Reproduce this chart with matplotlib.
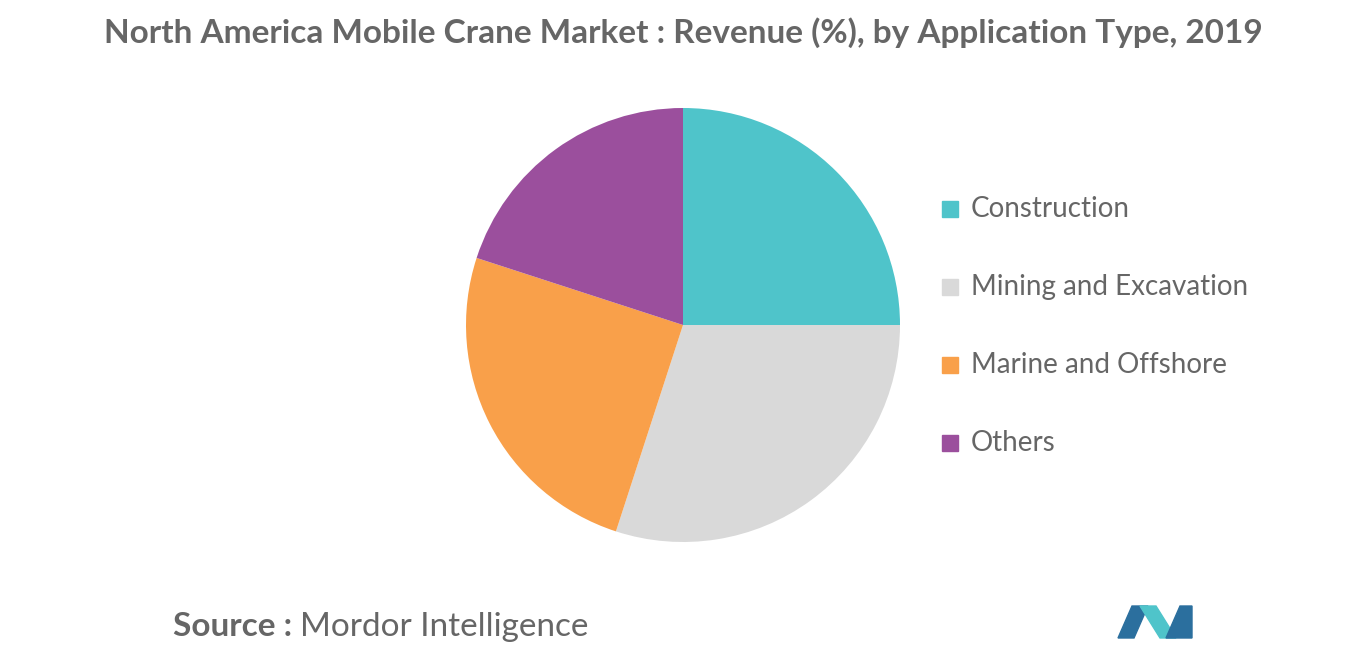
import matplotlib.pyplot as plt
from matplotlib.patches import Polygon

labels = ["Construction", "Mining and Excavation", "Marine and Offshore", "Others"]
values = [25, 30, 25, 20]
colors = ["#4FC4CA", "#D9D9D9", "#F9A04A", "#9B4F9D"]

fig = plt.figure(figsize=(13.66, 6.55), dpi=100)
ax = fig.add_axes([683/1366 - 217/1366, 1 - (325 + 217)/655, 434/1366, 434/655])
wedges, _ = ax.pie(values, colors=colors, startangle=90, counterclock=False)
ax.set_xlim(-1, 1)
ax.set_ylim(-1, 1)
ax.set_aspect("equal")

fig.text(0.5, 1 - 33/655, "North America Mobile Crane Market : Revenue (%), by Application Type, 2019",
         ha="center", va="center", fontsize=24, fontweight="bold", color="#666666", family="Lato")

for i, (lab, col) in enumerate(zip(labels, colors)):
    y = 1 - (209 + 78 * i) / 655
    fig.patches.append(plt.Rectangle((942/1366, y - 8/655), 16/1366, 16/655,
                                     transform=fig.transFigure, color=col))
    fig.text(971/1366, y, lab, va="center", fontsize=20, color="#666666", family="Lato")

fig.text(173/1366, 1 - 627/655, "Source :", va="center", fontsize=24, fontweight="bold",
         color="#666666", family="Lato")
fig.text(300/1366, 1 - 627/655, "Mordor Intelligence", va="center", fontsize=24,
         color="#666666", family="Lato")

# logo
def px(pts):
    return [(x/1366, 1 - y/655) for x, y in pts]
fig.patches.append(Polygon(px([(1118, 638), (1132, 606), (1148, 606), (1134, 638)]),
                           transform=fig.transFigure, color="#2B6F9E"))
fig.patches.append(Polygon(px([(1140, 606), (1160, 638), (1176, 638), (1156, 606)]),
                           transform=fig.transFigure, color="#4FC4CA"))
fig.patches.append(Polygon(px([(1166, 638), (1180, 606), (1192, 606), (1192, 638)]),
                           transform=fig.transFigure, color="#2B6F9E"))

fig.savefig("out.png", dpi=100)
